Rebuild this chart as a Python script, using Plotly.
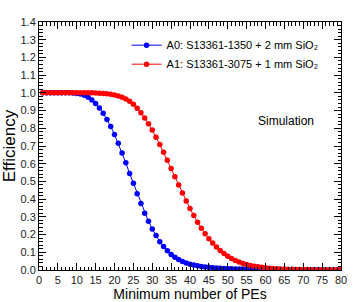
import plotly.graph_objects as go

x_vals = list(range(1, 81))

eff_a0 = [1.000, 1.000, 1.000, 1.000, 1.000, 1.000, 1.000, 1.000, 0.999, 0.997,
          0.993, 0.986, 0.975, 0.960, 0.940, 0.915, 0.885, 0.850, 0.810, 0.765,
          0.715, 0.660, 0.605, 0.545, 0.490, 0.430, 0.375, 0.320, 0.275, 0.232,
          0.195, 0.160, 0.132, 0.108, 0.088, 0.072, 0.059, 0.048, 0.040, 0.033,
          0.028, 0.024, 0.020, 0.017, 0.015, 0.013, 0.011, 0.010, 0.009, 0.008,
          0.007, 0.006, 0.0055, 0.005, 0.0045, 0.004, 0.0035, 0.003, 0.0028, 0.0025,
          0.0023, 0.0021, 0.0019, 0.0017, 0.0016, 0.0015, 0.0014, 0.0013, 0.0012, 0.0011,
          0.0010, 0.0009, 0.0008, 0.0008, 0.0007, 0.0007, 0.0006, 0.0006, 0.0005, 0.0005]

eff_a1 = [1.000, 1.000, 1.000, 1.000, 1.000, 1.000, 1.000, 1.000, 1.000, 1.000,
          1.000, 1.000, 1.000, 1.000, 0.999, 0.998, 0.997, 0.995, 0.992, 0.988,
          0.982, 0.975, 0.965, 0.952, 0.935, 0.913, 0.888, 0.858, 0.825, 0.790,
          0.750, 0.708, 0.665, 0.620, 0.573, 0.527, 0.480, 0.435, 0.390, 0.347,
          0.307, 0.270, 0.236, 0.205, 0.177, 0.152, 0.130, 0.110, 0.093, 0.078,
          0.065, 0.054, 0.045, 0.037, 0.031, 0.026, 0.021, 0.018, 0.015, 0.012,
          0.010, 0.009, 0.007, 0.006, 0.005, 0.0045, 0.004, 0.0035, 0.003, 0.0027,
          0.0024, 0.0021, 0.0019, 0.0017, 0.0015, 0.0013, 0.0012, 0.0011, 0.0010, 0.0009]

name_a0 = "A0: S13361-1350 + 2 mm SiO₂"
name_a1 = "A1: S13361-3075 + 1 mm SiO₂"

x_ticks = list(range(0, 81, 5))
y_ticks = [round(0.1 * i, 1) for i in range(0, 15)]

FONT = "Liberation Sans, Arial, sans-serif"

fig = go.Figure()
fig.add_trace(go.Scatter(x=x_vals, y=eff_a0, mode="lines+markers", name=name_a0,
                         line=dict(color="#0000ff", width=1),
                         marker=dict(color="#0000ff", size=5.5, symbol="circle")))
fig.add_trace(go.Scatter(x=x_vals, y=eff_a1, mode="lines+markers", name=name_a1,
                         line=dict(color="#ff0000", width=1),
                         marker=dict(color="#ff0000", size=5.5, symbol="circle")))

fig.add_annotation(x=65.4, y=0.843, xref="x", yref="y", text="Simulation",
                   showarrow=False, font=dict(family=FONT, size=12, color="black"))

axis_common = dict(showline=True, linecolor="black", linewidth=1, mirror="ticks",
                   ticks="inside", ticklen=7, tickcolor="black", showgrid=False,
                   zeroline=False, automargin=False,
                   tickfont=dict(family=FONT, size=11, color="#222"))

fig.update_xaxes(range=[0, 80], tickvals=x_ticks, ticktext=[str(v) for v in x_ticks],
                 minor=dict(dtick=1, ticks="inside", ticklen=3.5, tickcolor="black"),
                 title=dict(text="Minimum number of PEs", font=dict(family=FONT, size=14, color="black"),
                            standoff=0),
                 **axis_common)
fig.update_yaxes(range=[0, 1.4], tickvals=y_ticks, ticktext=[f"{v:.1f}" for v in y_ticks],
                 minor=dict(dtick=0.02, ticks="inside", ticklen=3.5, tickcolor="black"),
                 title=dict(text="Efficiency", font=dict(family=FONT, size=17, color="black"),
                            standoff=2),
                 **axis_common)

fig.update_layout(width=355, height=302, margin=dict(l=39, r=14, t=22, b=32),
                  plot_bgcolor="white", paper_bgcolor="white", showlegend=True,
                  legend=dict(x=0.29, y=0.965, xanchor="left", yanchor="top",
                              bgcolor="rgba(0,0,0,0)", borderwidth=0,
                              font=dict(family=FONT, size=11, color="black"),
                              tracegroupgap=0, itemwidth=30))

fig.write_html("out.html", config={"displayModeBar": False},
               post_script="document.body.style.margin='0';document.body.style.overflow='hidden';")
